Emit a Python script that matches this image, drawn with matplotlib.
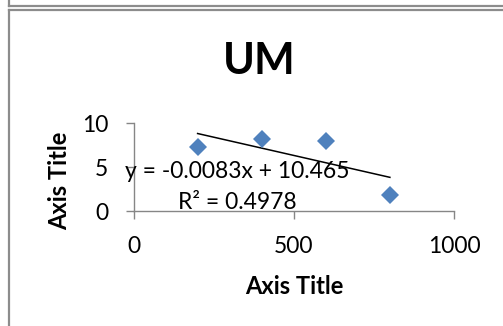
import matplotlib
matplotlib.use("Agg")
import matplotlib.pyplot as plt
from matplotlib.lines import Line2D

plt.rcParams['font.family'] = ['Lato', 'DejaVu Sans']

# data
x_vals = [200, 400, 600, 800]
y_vals = [7.27, 8.19, 8.0, 1.8]
x_ticks = [0, 500, 1000]
y_ticks = [0, 5, 10]
slope = -0.0083
intercept = 10.465
eq_text = "y = -0.0083x + 10.465"
r2_text = "R² = 0.4978"

W, H = 503, 326
fig = plt.figure(figsize=(W / 100, H / 100), dpi=100)
fig.patch.set_facecolor('white')

def fx(px):
    return px / W

def fy(py):
    return 1 - py / H

# chart borders (previous chart bottom edge + this chart's top/left)
gray = '#8c8c8c'
fig.add_artist(Line2D([fx(8.5), fx(8.5)], [fy(0), fy(5.5)], color=gray, lw=1.6, transform=fig.transFigure))
fig.add_artist(Line2D([fx(8.5), 1], [fy(5.5), fy(5.5)], color=gray, lw=1.6, transform=fig.transFigure))
fig.add_artist(Line2D([fx(8.5), fx(8.5)], [fy(10), 0], color=gray, lw=1.6, transform=fig.transFigure))
fig.add_artist(Line2D([fx(8.5), 1], [fy(10), fy(10)], color=gray, lw=1.6, transform=fig.transFigure))

left, right, top, bottom = 133.5, 454, 123, 211
ax = fig.add_axes([fx(left), fy(bottom), fx(right - left), (bottom - top) / H])

ax.plot(x_vals, y_vals, linestyle='none', marker='D', ms=9.5, mew=0, color='#4F81BD', zorder=3)

trend_x = [min(x_vals), max(x_vals)]
trend_y = [slope * v + intercept for v in trend_x]
ax.plot(trend_x, trend_y, color='black', lw=1.1, zorder=2)

ax.set_xlim(0, 1000)
ax.set_ylim(0, 10)
ax.set_xticks(x_ticks)
ax.set_yticks(y_ticks)
ax.patch.set_alpha(0)
for s in ['top', 'right']:
    ax.spines[s].set_visible(False)
for s in ['left', 'bottom']:
    ax.spines[s].set_color('#868686')
    ax.spines[s].set_linewidth(1.0)
ax.tick_params(direction='out', length=6, width=1.0, color='#868686',
               labelsize=16.5, labelcolor='black', pad=12)

ax.text(323, 4.45, eq_text, ha='center', va='center', fontsize=16.5, zorder=4)
ax.text(325, 0.95, r2_text, ha='center', va='center', fontsize=16.5, zorder=4)

fig.text(fx(259), fy(61), "UM", ha='center', va='center', fontsize=31, fontweight='bold')
fig.text(fx(294), fy(286), "Axis Title", ha='center', va='center', fontsize=17, fontweight='bold')
fig.text(fx(59.5), fy(181), "Axis Title", ha='center', va='center', fontsize=17,
         fontweight='bold', rotation=90)

fig.savefig('out.png', dpi=100)
